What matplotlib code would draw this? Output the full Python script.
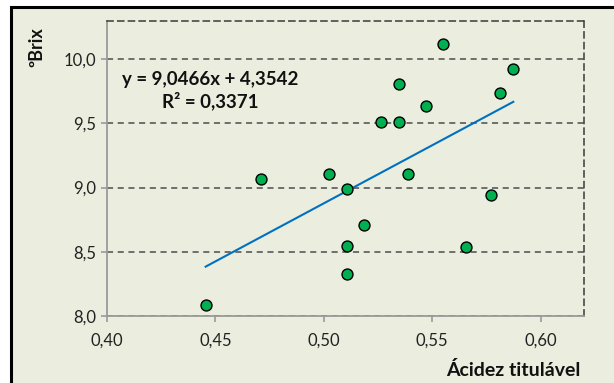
import matplotlib
matplotlib.use("Agg")
import matplotlib.pyplot as plt
from matplotlib.patches import Rectangle
import numpy as np

# acidez titulavel vs ºBrix
acidez = [0.471, 0.5548, 0.5874, 0.5346, 0.5811, 0.5469, 0.5266, 0.5346, 0.5024,
          0.5387, 0.5105, 0.5773, 0.5184, 0.5105, 0.5654, 0.5105, 0.4455]
brix = [9.07, 10.117, 9.927, 9.81, 9.74, 9.635, 9.51, 9.51, 9.109,
        9.109, 8.987, 8.943, 8.705, 8.547, 8.537, 8.326, 8.088]
slope, intercept = 9.0466, 4.3542
r2 = 0.3371

x_ticks = [0.40, 0.45, 0.50, 0.55, 0.60]
y_ticks = [8.0, 8.5, 9.0, 9.5, 10.0]

plt.rcParams['font.family'] = ['Lato', 'DejaVu Sans']

bg = '#ebeedf'
fig = plt.figure(figsize=(6.14, 3.83), dpi=100, facecolor='white')
# chart area box (cut off at right/bottom like the screenshot)
fig.patches.append(Rectangle((11 / 614, -0.1), 1.2, (383 - 7) / 383 + 0.1,
                             transform=fig.transFigure, facecolor=bg,
                             edgecolor='black', linewidth=2.2, zorder=-5))

ax = fig.add_axes([107 / 614, 67 / 383, 477 / 614, 295.3 / 383])
ax.set_zorder(1)
ax.set_facecolor(bg)

ax.set_xlim(0.40, 0.62)
ax.set_ylim(8.0, 10.3)
ax.set_xticks(x_ticks)
ax.set_yticks(y_ticks)
ax.set_xticklabels([f"{v:.2f}".replace('.', ',') for v in x_ticks])
ax.set_yticklabels([f"{v:.1f}".replace('.', ',') for v in y_ticks])

for v in y_ticks:
    ax.axhline(v, color='#4d4d4d', lw=1.1, ls=(0, (4, 3)), zorder=1)

for s in ['left', 'bottom']:
    ax.spines[s].set_color('#9a9a9a')
    ax.spines[s].set_linewidth(1.3)
for s in ['top', 'right']:
    ax.spines[s].set_color('#3a3a3a')
    ax.spines[s].set_linewidth(1.1)
    ax.spines[s].set_linestyle((0, (4, 3)))

ax.tick_params(axis='both', direction='out', length=4, width=1.2, color='#9a9a9a',
               labelsize=12, labelcolor='#222222')
ax.tick_params(axis='x', pad=8)
ax.tick_params(axis='y', pad=4)

ax.scatter(acidez, brix, s=62, color='#00b050', edgecolors='black', linewidths=1.0, zorder=4)

xl = np.array([min(acidez), max(acidez)])
ax.plot(xl, slope * xl + intercept, color='#0070c0', lw=1.5, zorder=3)

eq = f"y = {slope:.4f}x + {intercept:.4f}".replace('.', ',')
fig.text(210 / 614, 1 - 80 / 383, eq, ha='center', va='center', fontsize=13.5,
         fontweight='bold', color='#111111', zorder=5)
fig.text(210 / 614, 1 - 101 / 383, f"R² = {r2:.4f}".replace('.', ','), ha='center',
         va='center', fontsize=13.5, fontweight='bold', color='#111111', zorder=5)

fig.text(37 / 614, 1 - 47 / 383, 'ºBrix', rotation=90, ha='center', va='center',
         fontsize=13, fontweight='bold', color='#111111')
fig.text(580 / 614, 1 - 370 / 383, 'Ácidez titulável', ha='right', va='center',
         fontsize=14, fontweight='bold', color='#111111')

fig.savefig('out.png', dpi=100, facecolor='white')
